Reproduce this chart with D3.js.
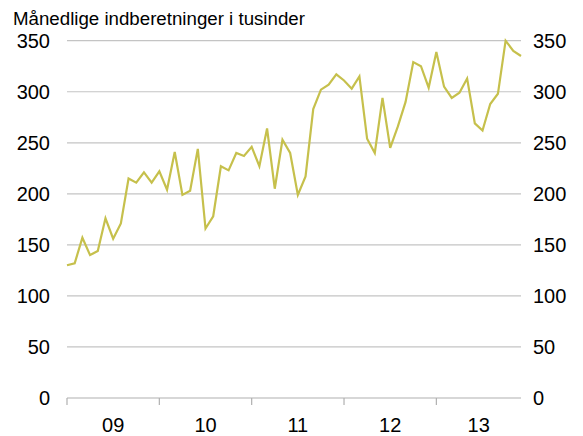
<!DOCTYPE html>
<meta charset="utf-8">
<script src="https://d3js.org/d3.v7.min.js"></script>
<style>
  body { margin: 0; background: #fff; }
  text { font-family: "Liberation Sans", Arial, sans-serif; fill: #000; }
</style>
<div id="chart"></div>
<script>
// monthly values, Jan 2009 - Dec 2013 (thousands)
var values = [
  130, 132, 157, 140, 144, 176, 156, 171, 215, 211, 221, 211,
  222, 204, 241, 199, 203, 244, 166, 178, 227, 223, 240, 237,
  246, 227, 264, 205, 253, 240, 199, 217, 283, 302, 307, 317,
  311, 303, 315, 254, 240, 294, 245, 266, 290, 329, 325, 304,
  339, 305, 294, 299, 313, 269, 262, 288, 298, 350, 340, 335
];
var years = ["09", "10", "11", "12", "13"];
var yTicks = [0, 50, 100, 150, 200, 250, 300, 350];
var title = "Månedlige indberetninger i tusinder";

var W = 583, H = 436;
var m = {left: 67, right: 521, top: 40.7, bottom: 398};

var svg = d3.select("#chart").append("svg")
  .attr("width", W)
  .attr("height", H);

var x = d3.scaleLinear().domain([0, values.length - 1]).range([m.left, m.right]);
var y = d3.scaleLinear().domain([0, 350]).range([m.bottom, m.top]);

// grid lines
svg.append("g")
  .selectAll("line")
  .data(yTicks)
  .enter().append("line")
    .attr("x1", m.left)
    .attr("x2", m.right)
    .attr("y1", function(d) { return y(d); })
    .attr("y2", function(d) { return y(d); })
    .style("stroke", function(d) { return d == 0 ? "#b0b0b0" : "#c4c4c4"; })
    .style("stroke-width", 1.2);

// left and right labels
svg.append("g")
  .selectAll("text")
  .data(yTicks)
  .enter().append("text")
    .attr("x", 50)
    .attr("y", function(d) { return y(d); })
    .attr("dy", "0.36em")
    .attr("text-anchor", "end")
    .style("font-size", "20px")
    .text(function(d) { return d; });

svg.append("g")
  .selectAll("text")
  .data(yTicks)
  .enter().append("text")
    .attr("x", 533)
    .attr("y", function(d) { return y(d); })
    .attr("dy", "0.36em")
    .attr("text-anchor", "start")
    .style("font-size", "20px")
    .text(function(d) { return d; });

// year ticks and labels
var yearIdx = d3.range(years.length).map(function(i) { return i * 12; });
svg.append("g")
  .selectAll("line")
  .data(yearIdx)
  .enter().append("line")
    .attr("x1", function(d) { return x(d); })
    .attr("x2", function(d) { return x(d); })
    .attr("y1", m.bottom)
    .attr("y2", m.bottom + 7)
    .style("stroke", "#b0b0b0")
    .style("stroke-width", 1.2);

svg.append("g")
  .selectAll("text")
  .data(years)
  .enter().append("text")
    .attr("x", function(d, i) { return (x(i * 12) + x(Math.min(i * 12 + 12, values.length - 1))) / 2; })
    .attr("y", 432)
    .attr("text-anchor", "middle")
    .style("font-size", "20px")
    .text(function(d) { return d; });

// line
var line = d3.line()
  .x(function(d, i) { return x(i); })
  .y(function(d) { return y(d); });

svg.append("path")
  .datum(values)
  .attr("d", line)
  .style("fill", "none")
  .style("stroke", "#c6c04c")
  .style("stroke-width", 2.2)
  .style("stroke-linejoin", "miter");

// title
svg.append("text")
  .attr("x", 13)
  .attr("y", 25)
  .style("font-size", "18.7px")
  .text(title);
</script>
